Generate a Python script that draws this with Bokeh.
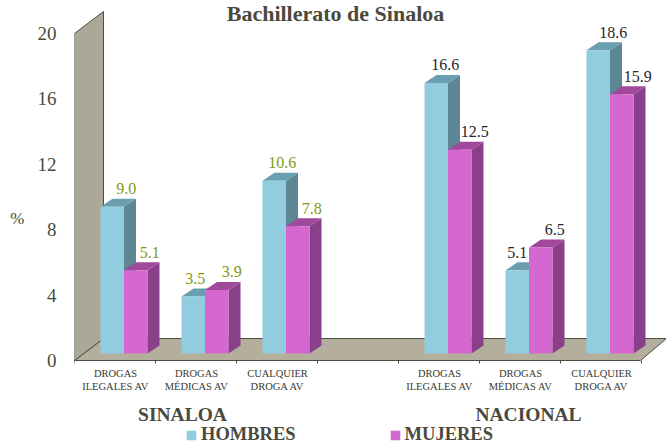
from bokeh.plotting import figure
from bokeh.models import Range1d, LinearAxis, FixedTicker, Legend, LegendItem, ColumnDataSource
from bokeh.core.properties import value
from bokeh.embed import file_html
from bokeh.resources import INLINE

# ---- data ----
groups = [0, 1, 2, 4, 5, 6]
hombres = [9.0, 3.5, 10.6, 16.6, 5.1, 18.6]
mujeres = [5.1, 3.9, 7.8, 12.5, 6.5, 15.9]
categories = ["DROGAS\nILEGALES AV", "DROGAS\nMÉDICAS AV", "CUALQUIER\nDROGA AV",
              "DROGAS\nILEGALES AV", "DROGAS\nMÉDICAS AV", "CUALQUIER\nDROGA AV"]
y_ticks = [0, 4, 8, 12, 16, 20]
sections = ["SINALOA", "NACIONAL"]
title_text = "Bachillerato de Sinaloa"
series_names = ["HOMBRES", "MUJERES"]

# ---- style / geometry ----
FONT = "Liberation Serif"
W, H = 666, 445
LEFT, FLOOR_PX = 74, 360
PX_X, PX_Y = 81.0, 16.3
X0_PX, Y0_PX = 100.0, 353.0
BAR = 23.5 / PX_X
DX, DY = 12.0 / PX_X, 8.0 / PX_Y

def ix(px):
    return (px - X0_PX) / PX_X

def iy(py):
    return (Y0_PX - py) / PX_Y

C_H, C_H_TOP, C_H_SIDE = "#92cddf", "#6a9fb0", "#5d8794"
C_M, C_M_TOP, C_M_SIDE = "#d568d0", "#a0489c", "#8a3f8a"
C_TXT = "#4a4a3c"
C_LINE = "#4d4d40"

p = figure(width=W, height=H, output_backend="svg", toolbar_location=None,
           x_range=Range1d(ix(LEFT), ix(W)), y_range=Range1d(iy(H), iy(0)),
           min_border_left=LEFT, min_border_right=0, min_border_top=0, min_border_bottom=0,
           margin=(0, 0, 0, 0), outline_line_color=None, y_axis_location=None, x_axis_location=None)
p.grid.visible = False
p.background_fill_color = "white"
p.border_fill_color = "white"

# chart walls
fl, fr = ix(LEFT), ix(640)
bl, br = ix(103), ix(666)
yf, yb = iy(FLOOR_PX), iy(338)
p.patch([bl, br, fr, fl], [yb, yb, yf, yf], fill_color="#b4af9d", line_color=C_LINE, line_width=1)
p.patch([fl, bl, bl, fl], [iy(33), iy(11), yb, yf], fill_color="#aca897", line_color=C_LINE, line_width=1)

# bars
def bars(offset, vals, front, top, side):
    lefts = [g + offset for g in groups]
    rights = [l + BAR for l in lefts]
    p.patches([[r, r + DX, r + DX, r] for r in rights],
              [[0, DY, v + DY, v] for v in vals], fill_color=side, line_color=None)
    p.patches([[l, l + DX, r + DX, r] for l, r in zip(lefts, rights)],
              [[v, v + DY, v + DY, v] for v in vals], fill_color=top, line_color=None)
    return p.vbar(x=[l + BAR / 2 for l in lefts], width=BAR, bottom=0, top=vals,
                  fill_color=front, line_color=None)

r_h = bars(0, hombres, C_H, C_H_TOP, C_H_SIDE)
r_m = bars(BAR, mujeres, C_M, C_M_TOP, C_M_SIDE)

# value labels
off_h = [14, 2, 8, 9, 0, 15]
off_m = [14, 15, 14, 15, 14, 16]
colors = ["#7d9a12"] * 3 + ["#26262a"] * 3
src = ColumnDataSource(dict(
    x=[g + BAR / 2 for g in groups] + [g + 1.5 * BAR for g in groups],
    y=hombres + mujeres,
    t=[f"{v:.1f}" for v in hombres + mujeres],
    dx=off_h + off_m,
    c=colors * 2,
))
p.text(x="x", y="y", text="t", x_offset="dx", y_offset=-18, text_color="c", source=src,
       text_font=value(FONT), text_font_size="16px", text_align="center", text_baseline="middle")

# y axis, whose zero sits on the front edge of the floor
p.extra_y_ranges["axis"] = Range1d((FLOOR_PX - H) / 16.35, FLOOR_PX / 16.35)
ya = LinearAxis(y_range_name="axis", ticker=FixedTicker(ticks=y_ticks),
                axis_line_color=None, major_tick_line_color=None, minor_tick_line_color=None,
                major_tick_in=0, major_tick_out=0,
                major_label_text_font=FONT, major_label_text_font_size="19px",
                major_label_text_color=C_TXT, major_label_standoff=18)
p.add_layout(ya, "left")

# the "%" unit, set beside the 8 tick
pct_at = (FLOOR_PX - 218) / 16.35
ua = LinearAxis(y_range_name="axis", ticker=FixedTicker(ticks=[pct_at]),
                major_label_overrides={pct_at: "%"},
                axis_line_color=None, major_tick_line_color=None, minor_tick_line_color=None,
                major_tick_in=0, major_tick_out=0,
                major_label_text_font=FONT, major_label_text_font_size="17px",
                major_label_text_color=C_TXT, major_label_standoff=10)
p.add_layout(ua, "left")

# category labels centred on the groups, ticks on the group boundaries
bounds = [ix(LEFT) + i for i in range(8)]
p.segment(x0=bounds, x1=bounds, y0=[iy(FLOOR_PX)] * 8, y1=[iy(FLOOR_PX + 3)] * 8, line_color=C_LINE)
p.text(x=[g + ix(115) for g in groups], y=[iy(367)] * 6, text=categories,
       text_font=value(FONT), text_font_size="10.5px", text_color="#3a3a30",
       text_align="center", text_baseline="top")

# section headings and title
p.text(x=[ix(182), ix(528)], y=[iy(414)] * 2, text=sections,
       text_font=value(FONT), text_font_size="19.5px", text_font_style="bold", text_color=C_TXT,
       text_align="center", text_baseline="middle")
p.text(x=[ix(335)], y=[iy(13)], text=[title_text],
       text_font=value(FONT), text_font_size="22px", text_font_style="bold", text_color=C_TXT,
       text_align="center", text_baseline="middle")

# legend
legend = Legend(items=[LegendItem(label=series_names[0], renderers=[r_h]),
                       LegendItem(label=series_names[1], renderers=[r_m])],
                orientation="horizontal", location=(111, 0), background_fill_alpha=0,
                border_line_color=None, glyph_width=12, glyph_height=12, spacing=93,
                label_text_font=FONT, label_text_font_size="18.5px", label_text_font_style="bold",
                label_text_color=C_TXT, label_standoff=4, padding=0, margin=0)
p.add_layout(legend, "center")

open("out.html", "w").write(file_html(p, INLINE))
